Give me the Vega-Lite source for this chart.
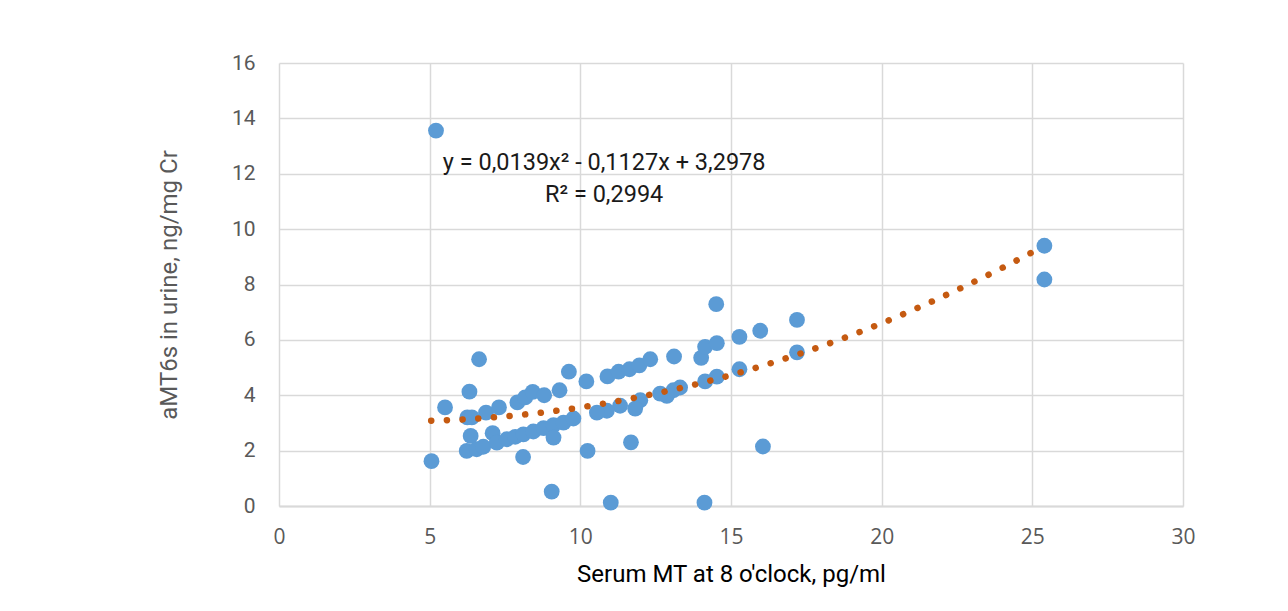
{
  "$schema": "https://vega.github.io/schema/vega-lite/v6.json",
  "autosize": "none",
  "width": 904,
  "height": 443,
  "padding": {"left": 279, "top": 63, "right": 105, "bottom": 105},
  "background": "white",
  "config": {
    "view": {"stroke": null},
    "axis": {
      "gridColor": "#D9D9D9",
      "gridWidth": 1.5,
      "ticks": false,
      "labelColor": "#595959",
      "titleColor": "#595959",
      "titleFontWeight": "normal"
    }
  },
  "datasets": {
    "pts": [
      {"x": 5.21, "y": 13.56}, {"x": 5.06, "y": 1.62}, {"x": 5.51, "y": 3.56}, {"x": 6.32, "y": 4.13},
      {"x": 6.25, "y": 3.2}, {"x": 6.4, "y": 3.2}, {"x": 6.64, "y": 5.3}, {"x": 6.87, "y": 3.37},
      {"x": 7.3, "y": 3.56}, {"x": 7.91, "y": 3.74}, {"x": 8.17, "y": 3.92}, {"x": 8.42, "y": 4.12},
      {"x": 8.8, "y": 4.0}, {"x": 9.31, "y": 4.18}, {"x": 9.62, "y": 4.85}, {"x": 10.2, "y": 4.5},
      {"x": 10.9, "y": 4.68}, {"x": 11.27, "y": 4.85}, {"x": 11.63, "y": 4.94}, {"x": 11.96, "y": 5.08},
      {"x": 12.32, "y": 5.3}, {"x": 13.11, "y": 5.4}, {"x": 14.01, "y": 5.35}, {"x": 14.14, "y": 5.75},
      {"x": 14.53, "y": 5.88}, {"x": 14.51, "y": 7.29}, {"x": 15.28, "y": 6.11}, {"x": 15.97, "y": 6.33},
      {"x": 17.19, "y": 6.72}, {"x": 17.19, "y": 5.55}, {"x": 25.4, "y": 9.4}, {"x": 25.4, "y": 8.18},
      {"x": 15.28, "y": 4.94}, {"x": 14.53, "y": 4.67}, {"x": 14.14, "y": 4.5}, {"x": 13.31, "y": 4.28},
      {"x": 13.09, "y": 4.18}, {"x": 12.87, "y": 3.98}, {"x": 12.65, "y": 4.06}, {"x": 11.99, "y": 3.82},
      {"x": 11.82, "y": 3.52}, {"x": 11.32, "y": 3.62}, {"x": 10.88, "y": 3.44}, {"x": 10.55, "y": 3.37},
      {"x": 11.68, "y": 2.3}, {"x": 16.06, "y": 2.15}, {"x": 11.01, "y": 0.12}, {"x": 14.12, "y": 0.12},
      {"x": 9.05, "y": 0.52}, {"x": 10.24, "y": 1.99}, {"x": 8.1, "y": 1.77}, {"x": 6.36, "y": 2.53},
      {"x": 6.23, "y": 1.99}, {"x": 6.56, "y": 2.05}, {"x": 6.78, "y": 2.14}, {"x": 7.09, "y": 2.63},
      {"x": 7.23, "y": 2.29}, {"x": 7.56, "y": 2.41}, {"x": 7.84, "y": 2.5}, {"x": 8.11, "y": 2.59},
      {"x": 8.44, "y": 2.69}, {"x": 8.78, "y": 2.81}, {"x": 9.11, "y": 2.92}, {"x": 9.11, "y": 2.47},
      {"x": 9.44, "y": 3.01}, {"x": 9.77, "y": 3.16}
    ],
    "trend": [
      {"x": 5.05, "y": 3.08}, {"x": 6, "y": 3.12}, {"x": 8, "y": 3.29}, {"x": 10, "y": 3.56},
      {"x": 12, "y": 3.95}, {"x": 14, "y": 4.44}, {"x": 16, "y": 5.05}, {"x": 18, "y": 5.77},
      {"x": 20, "y": 6.6}, {"x": 22, "y": 7.55}, {"x": 24, "y": 8.6}, {"x": 25.3, "y": 9.34}
    ],
    "labels": [
      {"x": 10.79, "y": 12.4, "t": "y = 0,0139x² - 0,1127x + 3,2978"},
      {"x": 10.79, "y": 11.25, "t": "R² = 0,2994"}
    ]
  },
  "layer": [
    {
      "data": {"name": "pts"},
      "mark": {"type": "point", "filled": true, "shape": "circle", "size": 250, "color": "#5B9BD5", "opacity": 1},
      "encoding": {
        "x": {
          "field": "x", "type": "quantitative",
          "scale": {"domain": [0, 30], "nice": false, "zero": false},
          "axis": {
            "values": [0, 5, 10, 15, 20, 25, 30],
            "title": "Serum MT at 8 o'clock, pg/ml",
            "titleFont": "Roboto",
            "titleFontSize": 24,
            "titleColor": "#000000",
            "titlePadding": 15,
            "labelFont": "Open Sans",
            "labelFontSize": 21,
            "labelPadding": 20,
            "labelFlush": false,
            "domainColor": "#D9D9D9",
            "domainWidth": 2
          }
        },
        "y": {
          "field": "y", "type": "quantitative",
          "scale": {"domain": [0, 16], "nice": false},
          "axis": {
            "values": [0, 2, 4, 6, 8, 10, 12, 14, 16],
            "title": "aMT6s in urine, ng/mg Cr",
            "titleFont": "Roboto",
            "titleFontSize": 24,
            "titlePadding": 50,
            "labelFont": "Roboto",
            "labelFontSize": 21,
            "labelPadding": 24,
            "labelFlush": false,
            "domain": false
          }
        }
      }
    },
    {
      "data": {"name": "trend"},
      "mark": {"type": "line", "interpolate": "monotone", "color": "#C55A11", "strokeWidth": 6.5, "strokeCap": "round", "strokeDash": [0.1, 15.6]},
      "encoding": {
        "x": {"field": "x", "type": "quantitative"},
        "y": {"field": "y", "type": "quantitative"}
      }
    },
    {
      "data": {"name": "labels"},
      "mark": {"type": "text", "font": "Roboto", "fontSize": 23.5, "color": "#1a1a1a", "align": "center", "baseline": "middle"},
      "encoding": {
        "x": {"field": "x", "type": "quantitative"},
        "y": {"field": "y", "type": "quantitative"},
        "text": {"field": "t"}
      }
    }
  ]
}
